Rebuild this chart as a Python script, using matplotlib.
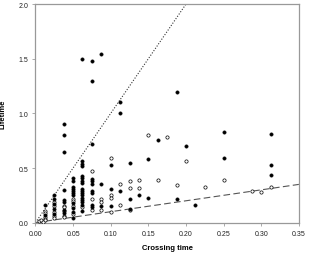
import matplotlib
matplotlib.use("Agg")
import matplotlib.pyplot as plt
import numpy as np

plt.rcParams['font.family'] = ['Liberation Sans', 'DejaVu Sans']

# Filled (solid) points
filled_x = [0.0375, 0.0375, 0.0375, 0.0625, 0.075, 0.075, 0.0875, 0.1125, 0.1125, 0.1875,
            0.075, 0.0625, 0.0625, 0.0625, 0.1, 0.125, 0.15, 0.1625,
            0.2, 0.25, 0.25, 0.3125, 0.3125, 0.3125, 0.1875, 0.2125,
            0.0875, 0.1, 0.1125, 0.1375, 0.15, 0.125, 0.125, 0.1, 0.0875,
            0.075, 0.075, 0.075, 0.075, 0.075, 0.075, 0.075,
            0.0625, 0.0625, 0.0625, 0.0625, 0.0625, 0.0625, 0.0625, 0.0625, 0.0625, 0.0625, 0.0625, 0.0625, 0.0625,
            0.05, 0.05, 0.05, 0.05, 0.05, 0.05, 0.05, 0.05, 0.05, 0.05, 0.05,
            0.0375, 0.0375, 0.0375, 0.0375, 0.0375,
            0.025, 0.025, 0.025, 0.025, 0.025,
            0.0125, 0.0125]
filled_y = [0.90, 0.80, 0.65, 1.50, 1.48, 1.30, 1.54, 1.10, 1.00, 1.20,
            0.72, 0.56, 0.54, 0.52, 0.53, 0.55, 0.58, 0.76,
            0.70, 0.83, 0.59, 0.81, 0.53, 0.44, 0.22, 0.165,
            0.35, 0.31, 0.29, 0.25, 0.23, 0.215, 0.125, 0.155, 0.155,
            0.40, 0.38, 0.35, 0.29, 0.27, 0.16, 0.14,
            0.43, 0.41, 0.38, 0.36, 0.31, 0.29, 0.27, 0.25, 0.23, 0.21, 0.19, 0.16, 0.11,
            0.41, 0.38, 0.33, 0.31, 0.29, 0.27, 0.25, 0.18, 0.13, 0.10, 0.04,
            0.30, 0.21, 0.19, 0.12, 0.085,
            0.25, 0.215, 0.17, 0.125, 0.08,
            0.165, 0.07]

# Open points
open_x = [0.075, 0.1, 0.1125, 0.125, 0.1375, 0.1625, 0.125, 0.1375, 0.1125, 0.1, 0.125,
          0.175, 0.2, 0.25, 0.3125, 0.3, 0.2875, 0.225, 0.1875, 0.15,
          0.1, 0.1, 0.0875, 0.0875, 0.0875, 0.075, 0.075, 0.0625,
          0.05, 0.05, 0.05, 0.05,
          0.0375, 0.0375, 0.0375, 0.0375, 0.0375,
          0.025, 0.025, 0.025, 0.025, 0.025,
          0.0125, 0.0125, 0.0125, 0.0125, 0.0125,
          0.005, 0.0075, 0.01]
open_y = [0.475, 0.59, 0.35, 0.38, 0.39, 0.39, 0.32, 0.32, 0.16, 0.10, 0.12,
          0.78, 0.56, 0.39, 0.33, 0.28, 0.29, 0.33, 0.34, 0.80,
          0.25, 0.23, 0.217, 0.19, 0.12, 0.22, 0.12, 0.14,
          0.22, 0.20, 0.155, 0.08,
          0.155, 0.14, 0.105, 0.065, 0.05,
          0.19, 0.15, 0.10, 0.06, 0.04,
          0.11, 0.09, 0.055, 0.035, 0.02,
          0.015, 0.02, 0.01]

x_ticks = [0.00, 0.05, 0.10, 0.15, 0.20, 0.25, 0.30, 0.35]
y_ticks = [0.0, 0.5, 1.0, 1.5, 2.0]
upper_slope = 10.0
lower_slope = 1.0

fig = plt.figure(figsize=(3.11, 2.55), dpi=100)
ax = fig.add_axes([0.114, 0.123, 0.847, 0.857])

lx = np.array([0.0, 0.35])
ax.plot(lx, upper_slope * lx, linestyle=(0, (1, 1.5)), color='#333333', linewidth=0.8, zorder=1)
ax.plot(lx, lower_slope * lx, linestyle=(0, (6, 3)), color='#555555', linewidth=0.8, zorder=1)

ax.scatter(open_x, open_y, s=5.5, facecolor='white', edgecolor='black', linewidth=0.5, zorder=3)
ax.scatter(filled_x, filled_y, s=6.5, facecolor='black', edgecolor='black', linewidth=0.2, zorder=4)

ax.set_xlim(0, 0.35)
ax.set_ylim(0, 2.0)
ax.set_xticks(x_ticks)
ax.set_xticklabels([f"{v:.2f}" for v in x_ticks])
ax.set_yticks(y_ticks)
ax.set_yticklabels([f"{v:.1f}" for v in y_ticks])
ax.tick_params(labelsize=5, length=2, width=0.5, color='#888888', labelcolor='#222222', pad=3)

for s in ax.spines.values():
    s.set_color('#999999')
    s.set_linewidth(0.9)

ax.set_xlabel('Crossing time', fontsize=5.5, fontweight='bold', labelpad=5)
ax.set_ylabel('Lifetime', fontsize=5.5, fontweight='bold', labelpad=9)

fig.savefig('out.png', dpi=100)
